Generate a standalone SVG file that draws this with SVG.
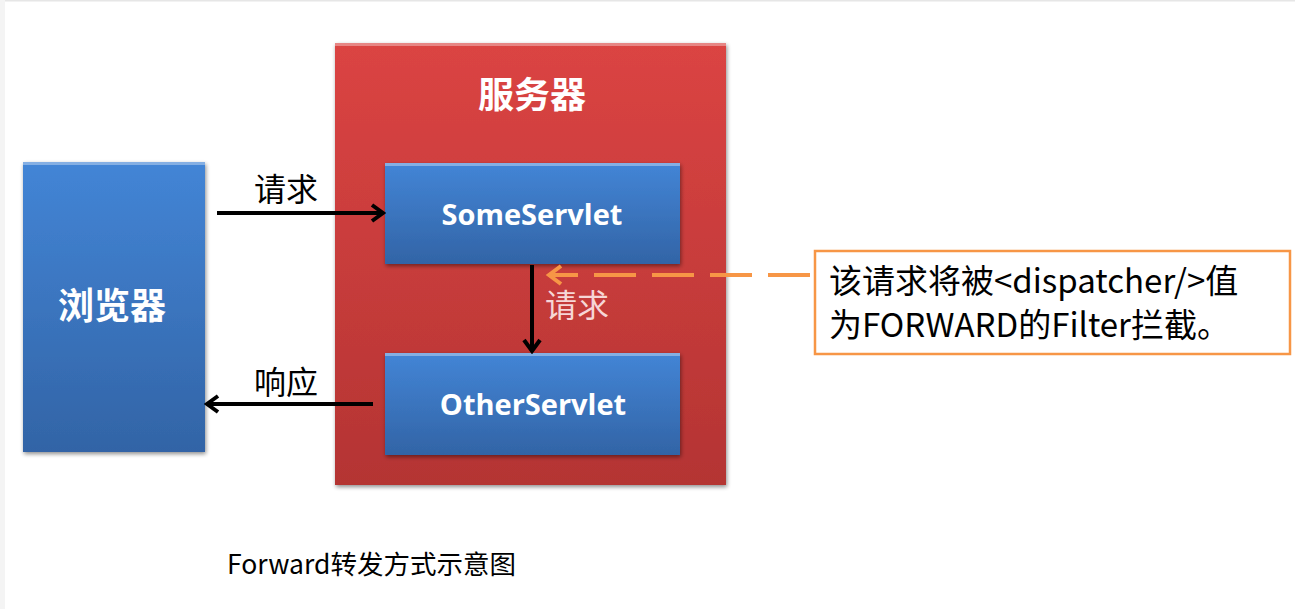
<svg xmlns="http://www.w3.org/2000/svg" width="1295" height="609" viewBox="0 0 1295 609">
<defs>
<linearGradient id="red" x1="0" y1="0" x2="0" y2="1">
<stop offset="0" stop-color="#DB4443"/>
<stop offset="1" stop-color="#B43433"/>
</linearGradient>
<linearGradient id="blue" x1="0" y1="0" x2="0" y2="1">
<stop offset="0" stop-color="#4385D6"/>
<stop offset="1" stop-color="#3264A6"/>
</linearGradient>
<filter id="sh" x="-10%" y="-10%" width="125%" height="125%">
<feGaussianBlur in="SourceAlpha" stdDeviation="2"/>
<feOffset dx="1" dy="2"/>
<feComponentTransfer><feFuncA type="linear" slope="0.45"/></feComponentTransfer>
<feMerge><feMergeNode/><feMergeNode in="SourceGraphic"/></feMerge>
</filter>
<marker id="ah" markerWidth="16" markerHeight="20" refX="13" refY="10" orient="auto" markerUnits="userSpaceOnUse">
<path d="M2,2 L13,10 L2,18" fill="none" stroke="#000" stroke-width="4"/>
</marker>
<marker id="ahO" markerWidth="18" markerHeight="22" refX="14" refY="11" orient="auto" markerUnits="userSpaceOnUse">
<path d="M2,2 L14,11 L2,20" fill="none" stroke="#F79646" stroke-width="4"/>
</marker>
</defs>
<style>
.cjk{font-family:"Noto Sans CJK SC","Noto Sans",sans-serif}
.lbl{font-family:"Noto Sans CJK SC",sans-serif;font-size:32px;fill:#000}
.wt{fill:#fff;font-weight:bold;font-family:"Open Sans","Noto Sans CJK SC",sans-serif}
.hl{fill:#fff;opacity:0.35}
</style>
<rect x="0" y="0" width="1295" height="609" fill="#fff"/>
<rect x="0" y="0" width="1295" height="1.5" fill="#e6e6e6"/>
<rect x="0" y="0" width="5" height="609" fill="#f4f4f4"/>

<g id="server">
<rect x="335" y="43" width="391" height="442" fill="url(#red)" filter="url(#sh)"/>
<rect x="335" y="43" width="391" height="3" class="hl"/>
<text x="532" y="108" text-anchor="middle" class="cjk" font-size="36" font-weight="bold" fill="#fff">服务器</text>
</g>

<g id="browser">
<rect x="23" y="162" width="182" height="290" fill="url(#blue)" filter="url(#sh)"/>
<rect x="23" y="162" width="182" height="3" class="hl"/>
<text x="112" y="319" text-anchor="middle" class="cjk" font-size="36" font-weight="bold" fill="#fff">浏览器</text>
</g>

<g id="someServlet">
<rect x="385" y="163" width="295" height="101" fill="url(#blue)" filter="url(#sh)"/>
<rect x="385" y="163" width="295" height="3" class="hl"/>
<text x="532" y="225" text-anchor="middle" class="wt" font-size="29">SomeServlet</text>
</g>

<g id="otherServlet">
<rect x="385" y="353" width="295" height="102" fill="url(#blue)" filter="url(#sh)"/>
<rect x="385" y="353" width="295" height="3" class="hl"/>
<text x="533" y="415" text-anchor="middle" class="wt" font-size="29">OtherServlet</text>
</g>

<g id="note">
<rect x="815" y="251" width="475" height="103" fill="#fff" stroke="#F79646" stroke-width="2.5"/>
<text x="829" y="293" class="cjk" font-size="33" fill="#000">该请求将被&lt;dispatcher/&gt;值</text>
<text x="829" y="337" class="cjk" font-size="33" fill="#000">为FORWARD的Filter拦截。</text>
</g>

<g id="connectors">
<line x1="217" y1="213" x2="383" y2="213" stroke="#000" stroke-width="4" marker-end="url(#ah)"/>
<text x="254" y="201" class="lbl">请求</text>
<line x1="373" y1="404" x2="207" y2="404" stroke="#000" stroke-width="4" marker-end="url(#ah)"/>
<text x="254" y="394" class="lbl">响应</text>
<line x1="532" y1="265" x2="532" y2="351" stroke="#000" stroke-width="4" marker-end="url(#ah)"/>
<text x="545" y="317" class="lbl" style="fill:#F6D6D6">请求</text>
<line x1="810" y1="275" x2="549" y2="275" stroke="#F79646" stroke-width="4" stroke-dasharray="42 16" marker-end="url(#ahO)"/>
</g>

<text x="227" y="574" class="cjk" font-size="26.5" fill="#000">Forward转发方式示意图</text>
</svg>
